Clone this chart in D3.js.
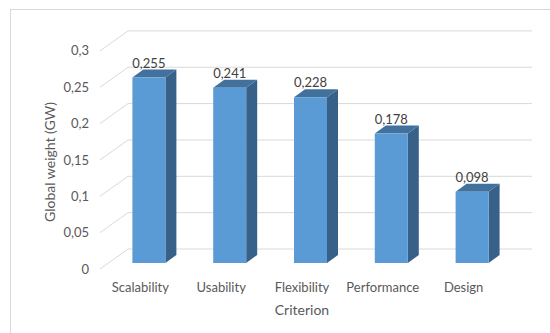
<!DOCTYPE html>
<html>
<head>
<meta charset="utf-8">
<script src="https://cdn.jsdelivr.net/npm/d3@7"></script>
<style>
  html, body { margin: 0; padding: 0; background: #fff; }
  svg { display: block; font-family: Lato, "Open Sans", sans-serif; }
</style>
</head>
<body>
<svg id="chart" width="550" height="333"></svg>
<script>
// Global weight per criterion
const categories = ["Scalability", "Usability", "Flexibility", "Performance", "Design"];
const values = [0.255, 0.241, 0.228, 0.178, 0.098];
const tickValues = [0, 0.05, 0.1, 0.15, 0.2, 0.25, 0.3];
const tickLabels = ["0", "0,05", "0,1", "0,15", "0,2", "0,25", "0,3"];

const fmt = v => String(v).replace(".", ",");

const svg = d3.select("#chart");

// Outer chart-area frame
svg.append("rect")
  .attr("x", 10.5).attr("y", 9.5)
  .attr("width", 560).attr("height", 340)
  .attr("fill", "none").attr("stroke", "#d9d9d9");

// Projection offsets (pseudo-3D): the bars' front plane is the reference plane
const front = { dx: -8.5, dy: 6 };   // front edge of the floor / side wall
const back = { dx: 19.5, dy: -14 };  // back wall
const depth = { dx: 11, dy: -8 };    // thickness of each bar

const x = d3.scaleBand().domain(categories).range([108.5, 512.5]).paddingInner(0).paddingOuter(0);
const y = d3.scaleLinear().domain([0, 0.3]).range([263, 263 - 0.3 * 727]);

const barW = 33;

// Gridlines: diagonal on the side wall, horizontal on the back wall
const grid = svg.append("g").attr("stroke", "#d9d9d9").attr("stroke-width", 1).attr("fill", "none");
const x0 = x.range()[0], x1 = x.range()[1];
tickValues.forEach(v => {
  const yy = y(v);
  grid.append("path")
    .attr("d", `M${x0 + front.dx},${yy + front.dy}L${x0 + back.dx},${yy + back.dy}L${x1 + back.dx},${yy + back.dy}`);
});

// Value axis labels
svg.append("g").selectAll("text")
  .data(tickValues)
  .join("text")
  .attr("x", 89)
  .attr("y", v => y(v) + front.dy)
  .attr("dy", "0.35em")
  .attr("text-anchor", "end")
  .attr("font-size", 13)
  .attr("fill", "#595959")
  .text((v, i) => tickLabels[i]);

// Bars
const bars = svg.append("g").selectAll("g")
  .data(categories.map((c, i) => ({ c, v: values[i] })))
  .join("g");

bars.each(function(d) {
  const g = d3.select(this);
  const bx = x(d.c) + x.bandwidth() / 2 - barW / 2;
  const top = y(d.v), bot = y(0);
  // side face
  g.append("path")
    .attr("d", `M${bx + barW},${top}L${bx + barW + depth.dx},${top + depth.dy}L${bx + barW + depth.dx},${bot + depth.dy}L${bx + barW},${bot}Z`)
    .attr("fill", "#386189");
  // top face
  g.append("path")
    .attr("d", `M${bx},${top}L${bx + depth.dx},${top + depth.dy}L${bx + barW + depth.dx},${top + depth.dy}L${bx + barW},${top}Z`)
    .attr("fill", "#41719c");
  // front face
  g.append("rect")
    .attr("x", bx).attr("y", top)
    .attr("width", barW).attr("height", bot - top)
    .attr("fill", "#5b9bd5");
  // value label
  g.append("text")
    .attr("x", bx + barW / 2)
    .attr("y", top + depth.dy - 2)
    .attr("text-anchor", "middle")
    .attr("font-size", 13)
    .attr("fill", "#404040")
    .text(fmt(d.v));
});

// Category labels
svg.append("g").selectAll("text")
  .data(categories)
  .join("text")
  .attr("x", c => x(c) + x.bandwidth() / 2 + front.dx)
  .attr("y", 287)
  .attr("dy", "0.35em")
  .attr("text-anchor", "middle")
  .attr("font-size", 13)
  .attr("fill", "#595959")
  .text(c => c);

// Axis titles
svg.append("text")
  .attr("x", (x0 + x1) / 2 + front.dx)
  .attr("y", 310)
  .attr("dy", "0.35em")
  .attr("text-anchor", "middle")
  .attr("font-size", 14)
  .attr("fill", "#595959")
  .text("Criterion");

svg.append("text")
  .attr("transform", "translate(50,162) rotate(-90)")
  .attr("dy", "0.35em")
  .attr("text-anchor", "middle")
  .attr("font-size", 14)
  .attr("fill", "#595959")
  .text("Global weight (GW)");
</script>
</body>
</html>
